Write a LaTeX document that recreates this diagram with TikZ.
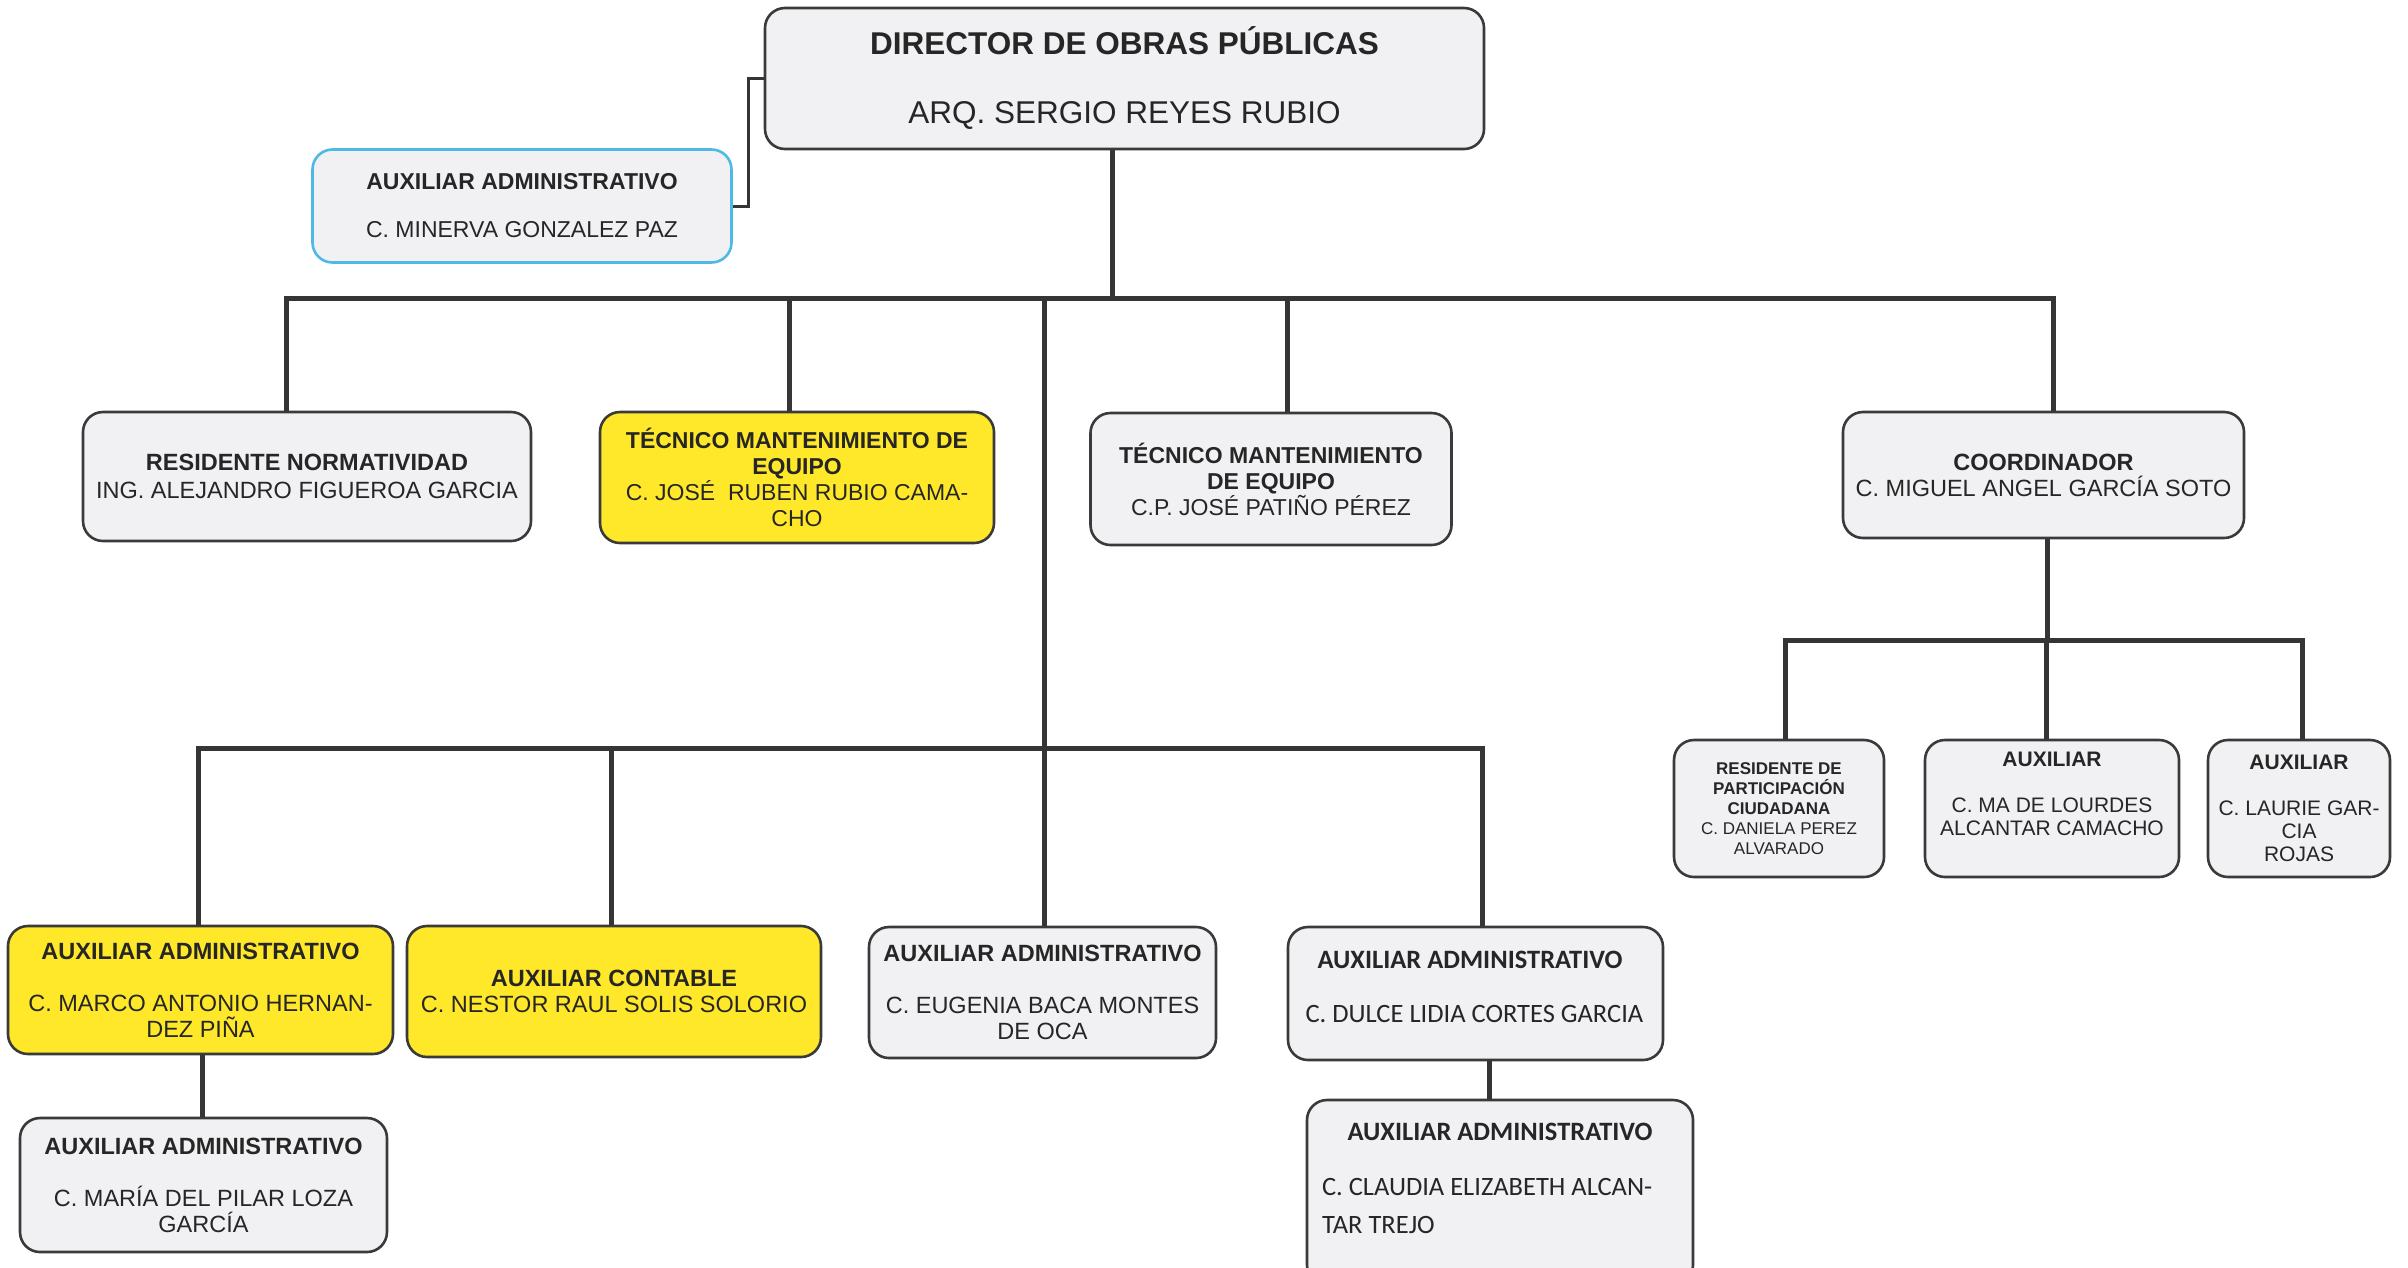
\documentclass[tikz,border=0pt]{standalone}
\usepackage{fontspec}
\setmainfont{Liberation Sans}
\newfontfamily\calib{Carlito}
\usetikzlibrary{calc}
\definecolor{boxfill}{HTML}{F1F1F3}
\definecolor{boxline}{HTML}{3A3A3A}
\definecolor{connc}{HTML}{353535}
\definecolor{ylw}{HTML}{FFE82A}
\definecolor{sky}{HTML}{4FB9E6}
\newcommand{\fs}[2]{\fontsize{#1}{#2}\selectfont}
\tikzset{
  box/.style={draw=boxline, line width=2.6pt, rounded corners=20pt, fill=boxfill,
    inner sep=0pt, align=center, text=black!85},
  ybox/.style={box, fill=ylw},
  bbox/.style={box, draw=sky, line width=2.6pt},
  conn/.style={draw=connc, line width=5pt},
  thinconn/.style={draw=connc, line width=3pt},
}
\begin{document}
\begin{tikzpicture}[x=1pt,y=-1pt]
\useasboundingbox (0,0) rectangle (2408,1267);
\fill[white] (0,0) rectangle (2408,1267);

% top
\node[box, minimum width=719, minimum height=141, font=\fs{31.5}{69}] (dir) at (1124.5,78.5)
  {\textbf{DIRECTOR DE OBRAS PÚBLICAS}\\ARQ. SERGIO REYES RUBIO};
\node[bbox, minimum width=419, minimum height=113, font=\fs{23}{48}] (min) at (522,206)
  {\textbf{AUXILIAR ADMINISTRATIVO}\\C. MINERVA GONZALEZ PAZ};

% row 1
\node[box, minimum width=448, minimum height=129, font=\fs{23.5}{27.5}] (resn) at (307,476.5)
  {\textbf{RESIDENTE NORMATIVIDAD}\\ING. ALEJANDRO FIGUEROA GARCIA};
\node[ybox, minimum width=394, minimum height=131, font=\fs{23}{26}] (tec1) at (797,477.5)
  {\textbf{TÉCNICO MANTENIMIENTO DE}\\\textbf{EQUIPO}\\C. JOSÉ\ \ RUBEN RUBIO CAMA-\\CHO};
\node[box, minimum width=361, minimum height=132, font=\fs{23}{26}] (tec2) at (1271,479)
  {\textbf{TÉCNICO MANTENIMIENTO}\\\textbf{DE EQUIPO}\\C.P. JOSÉ PATIÑO PÉREZ};
\node[box, minimum width=401, minimum height=126, font=\fs{23.5}{26}] (coord) at (2043.5,475)
  {\textbf{COORDINADOR}\\C. MIGUEL ANGEL GARCÍA SOTO};

% coordinator's team
\node[box, minimum width=210, minimum height=137, font=\fs{17}{20}] (resp) at (1779,808.5)
  {\textbf{RESIDENTE DE}\\\textbf{PARTICIPACIÓN}\\\textbf{CIUDADANA}\\C. DANIELA PEREZ\\ALVARADO};
\node[box, minimum width=254, minimum height=137, font=\fs{21}{23}] (lour) at (2052,808.5)
  {\textbf{AUXILIAR}\\[23pt]C. MA DE LOURDES\\ALCANTAR CAMACHO\\[6pt]\mbox{}};
\node[box, minimum width=182, minimum height=137, font=\fs{21}{23}] (laur) at (2299,808.5)
  {\textbf{AUXILIAR}\\[23pt]C. LAURIE GAR-\\CIA\\ROJAS};

% lower row
\node[ybox, minimum width=385, minimum height=128, font=\fs{23.5}{26}] (marco) at (200.5,990)
  {\textbf{AUXILIAR ADMINISTRATIVO}\\[26pt]C. MARCO ANTONIO HERNAN-\\DEZ PIÑA};
\node[ybox, minimum width=414, minimum height=131, font=\fs{23.5}{26}] (cont) at (614,991.5)
  {\textbf{AUXILIAR CONTABLE}\\C. NESTOR RAUL SOLIS SOLORIO};
\node[box, minimum width=347, minimum height=131, font=\fs{23.5}{26}] (eug) at (1042.5,992.5)
  {\textbf{AUXILIAR ADMINISTRATIVO}\\[26pt]C. EUGENIA BACA MONTES\\DE OCA};
\node[box, minimum width=375, minimum height=133, font=\calib\fs{26.5}{54}] (dulce) at (1475.5,993.5)
  {\makebox[340pt][l]{\hspace{12pt}\textbf{AUXILIAR ADMINISTRATIVO}}\\\makebox[340pt][l]{C. DULCE LIDIA CORTES GARCIA}\\[-40pt]\mbox{}};
\node[box, minimum width=386, minimum height=185, font=\calib\fs{26.5}{38}] (claud) at (1500,1192.5)
  {\textbf{AUXILIAR ADMINISTRATIVO}\\[17pt]\makebox[356pt][l]{C. CLAUDIA ELIZABETH ALCAN-}\\\makebox[356pt][l]{TAR TREJO}\\[-10pt]\mbox{}};
\node[box, minimum width=367, minimum height=134, font=\fs{23.5}{26}] (maria) at (203.5,1185)
  {\textbf{AUXILIAR ADMINISTRATIVO}\\[26pt]C. MARÍA DEL PILAR LOZA\\GARCÍA};

% connectors
\coordinate (bus1) at (0,298);
\coordinate (bus2) at (0,748);
\coordinate (bus3) at (0,640);
\draw[thinconn] (min.east) -| ($(min.east)!0.5!(dir.west)$) |- (dir.west);
\draw[conn] ([xshift=-12.5pt]dir.south) -- ([xshift=-12.5pt]dir.south |- bus1);
\draw[conn] ([xshift=-21pt]resn.north) |- ([xshift=9.5pt]coord.north |- bus1) -- ([xshift=9.5pt]coord.north);
\draw[conn] ([xshift=-8pt]tec1.north) -- ([xshift=-8pt]tec1.north |- bus1);
\draw[conn] ([xshift=16pt]tec2.north) -- ([xshift=16pt]tec2.north |- bus1);
\draw[conn] ([xshift=1.5pt]eug.north) -- ([xshift=1.5pt]eug.north |- bus1);
\draw[conn] ([xshift=-2.5pt]marco.north) |- ([xshift=6.5pt]dulce.north |- bus2) -- ([xshift=6.5pt]dulce.north);
\draw[conn] ([xshift=-3pt]cont.north) -- ([xshift=-3pt]cont.north |- bus2);
\draw[conn] ([xshift=1.5pt]marco.south) -- ([xshift=1.5pt]marco.south |- maria.north);
\draw[conn] ([xshift=13.5pt]dulce.south) -- ([xshift=13.5pt]dulce.south |- claud.north);
\draw[conn] ([xshift=4pt]coord.south) -- ([xshift=4pt]coord.south |- bus3);
\draw[conn] ([xshift=6pt]resp.north) |- ([xshift=3pt]laur.north |- bus3) -- ([xshift=3pt]laur.north);
\draw[conn] ([xshift=-6pt]lour.north) -- ([xshift=-6pt]lour.north |- bus3);
\end{tikzpicture}
\end{document}
